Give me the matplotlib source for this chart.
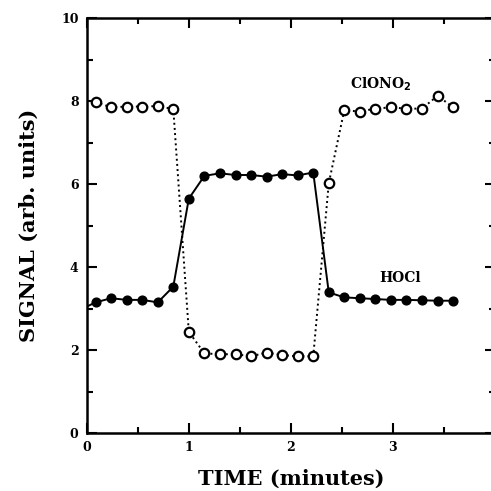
import matplotlib
matplotlib.use('Agg')
import matplotlib.pyplot as plt
from matplotlib.ticker import MultipleLocator

# sample times (minutes), 24 samples ~9 s apart
time = [0.085, 0.237, 0.39, 0.542, 0.695, 0.847, 0.999, 1.152, 1.304, 1.457, 1.609, 1.761,
        1.914, 2.066, 2.219, 2.371, 2.523, 2.676, 2.828, 2.981, 3.133, 3.285, 3.438, 3.59]

clono2 = [7.98, 7.85, 7.87, 7.87, 7.88, 7.81, 2.44, 1.92, 1.9, 1.9, 1.85, 1.94,
          1.88, 1.85, 1.85, 6.02, 7.78, 7.75, 7.82, 7.85, 7.82, 7.82, 8.13, 7.85]

hocl = [3.15, 3.25, 3.21, 3.21, 3.15, 3.53, 5.65, 6.2, 6.26, 6.22, 6.22, 6.18,
        6.24, 6.21, 6.28, 3.39, 3.27, 3.25, 3.23, 3.21, 3.21, 3.2, 3.19, 3.19]

# HOCl trace starts at the left axis
hocl_start_t = 0.0
hocl_start_v = 3.05

fig = plt.figure(figsize=(4.91, 4.91), dpi=100)
ax = fig.add_axes([0.177, 0.118, 0.831, 0.845])

font = {'family': 'DejaVu Serif', 'weight': 'bold'}

ax.plot([hocl_start_t] + time, [hocl_start_v] + hocl, '-', color='black', lw=1.4, zorder=2)
ax.plot(time, hocl, 'o', color='black', ms=6.3, zorder=3)
ax.plot(time, clono2, ':', color='black', lw=1.4, zorder=2)
ax.plot(time, clono2, 'o', mfc='white', mec='black', mew=1.6, ms=6.8, zorder=3)

ax.text(2.58, 8.2, r'ClONO$_\mathbf{2}$', ha='left', va='bottom', fontsize=10, **font)
ax.text(3.07, 3.57, 'HOCl', ha='center', va='bottom', fontsize=10, **font)

ax.set_xlim(0, 4)
ax.set_ylim(0, 10)
ax.xaxis.set_major_locator(MultipleLocator(1))
ax.xaxis.set_minor_locator(MultipleLocator(0.5))
ax.yaxis.set_major_locator(MultipleLocator(2))
ax.yaxis.set_minor_locator(MultipleLocator(1))
ax.tick_params(which='both', direction='in', top=True, right=True, width=1.5)
ax.tick_params(which='major', length=7, labelsize=9, pad=6)
ax.tick_params(which='minor', length=4)
for lab in ax.get_xticklabels() + ax.get_yticklabels():
    lab.set_fontfamily('DejaVu Serif')
    lab.set_fontweight('bold')
for sp in ax.spines.values():
    sp.set_linewidth(1.8)

ax.set_xlabel('TIME (minutes)', fontsize=15, labelpad=10, **font)
ax.set_ylabel('SIGNAL (arb. units)', fontsize=15, labelpad=16, **font)

fig.savefig('out.png', dpi=100)
